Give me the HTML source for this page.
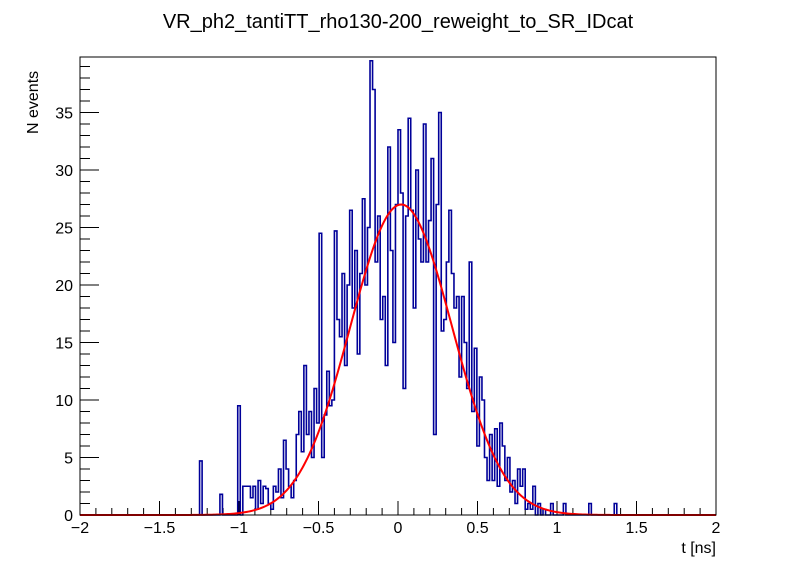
<!DOCTYPE html>
<html><head><meta charset="utf-8"><style>
body{margin:0;background:#fff;}
svg{display:block;font-family:"Liberation Sans",sans-serif;}
</style></head><body>
<svg id="c" width="796" height="572">
<text x="398" y="28" text-anchor="middle" font-size="20">VR_ph2_tantiTT_rho130-200_reweight_to_SR_IDcat</text>
<g id="axes"></g>
<path id="hist" fill="none" stroke="#000099" stroke-width="1.6"/>
<path id="fit" fill="none" stroke="#ff0000" stroke-width="2"/>
<rect x="80" y="57" width="636" height="458" fill="none" stroke="#000" stroke-width="1"/>
<text x="716" y="553" text-anchor="end" font-size="16">t [ns]</text>
<text transform="translate(38,134) rotate(-90)" font-size="16">N events</text>
</svg>
<script>
const firstBinLow=-1.248, binWidth=0.016;
const counts=[4.7,0,0,0,0,0,0,0,1.8,0,0,0,0,0,0,9.5,
0,2.5,2.5,2.5,1.5,2.5,0.5,3,1,2.5,2.3,1,0.5,2.5,2,4,1.5,6.5,4,2.5,1.5,3,7,9,5.5,13,7,9,5,11,8,
24.5,
5,8.7,12.5,9.5,10,24.7,17,15.5,21,13,20,26.5,18,23,14,21,27.5,20,25,39.5,37,22,26,17,19,13,32,23,15,27,33.5,28,11,26,34.5,26.5,18,30,24,22,34,22,25.6,31,7,27,35,16,17,22,26.5,21,18,19,12,19,15,11,22,9,14.5,6,12,10,5,3,7,3,7.5,2.5,8,6,3,5,2,3,1,4,2.5,4,0.5,1,0.5,2.5,0,1,0,0.5,0,0,1,0,0,0,0,1,0,0,0,0,0,0,0,0,0,1,0,0,0,0,0,0,0,0,0,1,0];
const fitParams=[27.0,0.02,0.32]; // amplitude, mean, sigma
const xTicks=[-2,-1.5,-1,-0.5,0,0.5,1,1.5,2];
const xTickLabels=["\u22122","\u22121.5","\u22121","\u22120.5","0","0.5","1","1.5","2"];
const yTicks=[0,5,10,15,20,25,30,35];
const yTickLabels=["0","5","10","15","20","25","30","35"];

const X0=80,X1=716,Y0=515,Y1=57,xmin=-2,xmax=2,ymin=0,ymax=(515-57)/11.5;
const sx=v=>X0+(v-xmin)/(xmax-xmin)*(X1-X0);
const sy=v=>Y0-(Math.min(v,ymax)-ymin)/(ymax-ymin)*(Y0-Y1);
const NS="http://www.w3.org/2000/svg";
const ax=document.getElementById('axes');
function mk(t,a){const e=document.createElementNS(NS,t);for(const k in a)e.setAttribute(k,a[k]);return e;}
for(let i=0;i<=40;i++){const v=xmin+i*0.1;const maj=i%5===0;
 const l=mk('line',{x1:sx(v),x2:sx(v),y1:Y0,y2:Y0-(maj?14:7),stroke:'#000','stroke-width':1});
 
 
 ax.appendChild(l);}
xTicks.forEach((v,i)=>{const t=mk('text',{x:sx(v),y:Y0+18,'text-anchor':'middle','font-size':16});t.textContent=xTickLabels[i];
 
 
 ax.appendChild(t);});
for(let v=0;v<=39;v++){const maj=v%5===0;
 const l=mk('line',{x1:X0,x2:X0+(maj?19:10),y1:sy(v),y2:sy(v),stroke:'#000','stroke-width':1});
 
 
 ax.appendChild(l);}
yTicks.forEach((v,i)=>{const t=mk('text',{x:X0-7,y:sy(v)+6,'text-anchor':'end','font-size':16});t.textContent=yTickLabels[i];
 
 
 ax.appendChild(t);});
let d='M'+sx(xmin)+','+sy(0)+' L'+sx(firstBinLow)+','+sy(0);
counts.forEach((c,i)=>{const x=firstBinLow+i*binWidth;const y=sy(c);d+=' L'+sx(x)+','+y+' L'+sx(x+binWidth)+','+y;});
d+=' L'+sx(firstBinLow+counts.length*binWidth)+','+sy(0)+' L'+sx(xmax)+','+sy(0);
document.getElementById('hist').setAttribute('d',d);
let f='';for(let i=0;i<=400;i++){const x=xmin+i*0.01;const y=fitParams[0]*Math.exp(-Math.pow(x-fitParams[1],2)/(2*fitParams[2]*fitParams[2]));f+=(i?' L':'M')+sx(x).toFixed(2)+','+sy(y).toFixed(2);}
document.getElementById('fit').setAttribute('d',f);
</script>
</body></html>
